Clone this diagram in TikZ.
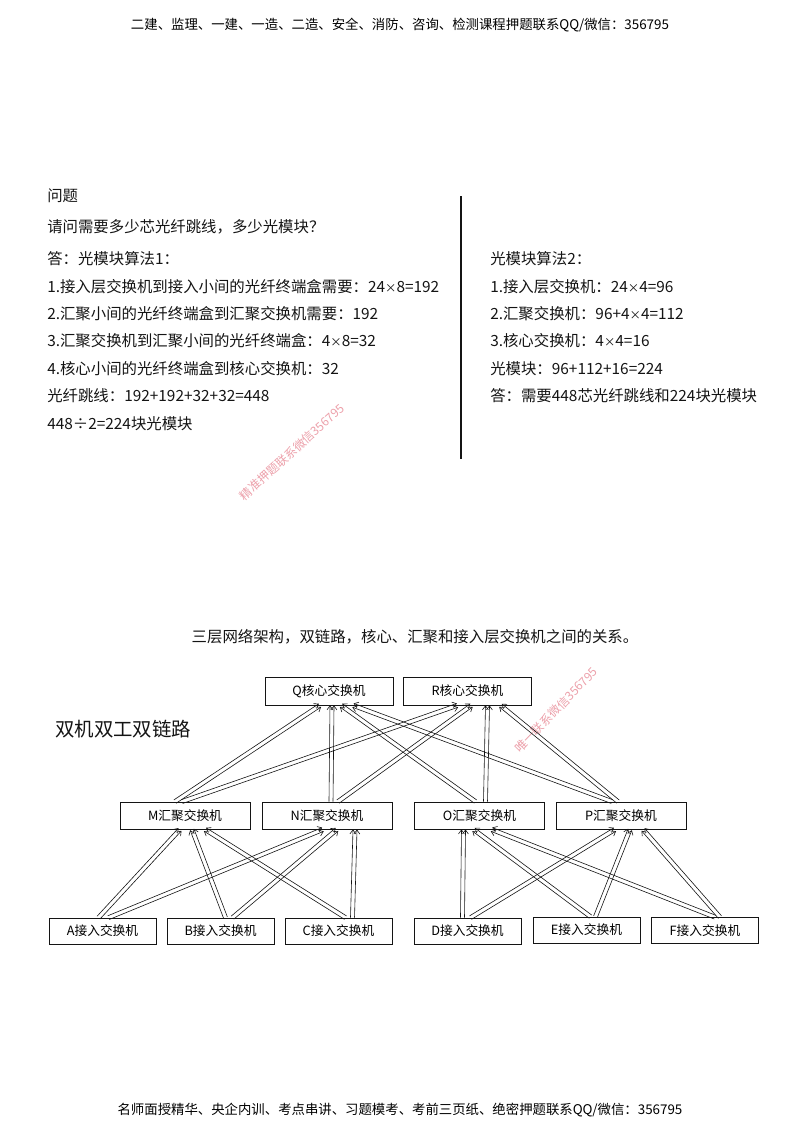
\documentclass[tikz,border=0pt]{standalone}
\usepackage{fontspec}
\setmainfont{Noto Sans CJK SC}
\usepackage{tikz}
\usetikzlibrary{arrows.meta, positioning, calc}
\definecolor{noir}{RGB}{20,20,20}
\definecolor{rose}{RGB}{236,160,170}

\tikzset{
  boite/.style={draw=noir, line width=0.6pt, inner sep=0pt, font=\fontsize{9.5}{11}\selectfont},
  coeur/.style={boite, minimum width=33.6mm, minimum height=7.3mm},
  agreg/.style={boite, minimum width=34.1mm, minimum height=7.1mm},
  acces/.style={boite, minimum width=28.1mm, minimum height=6.8mm},
  lien/.style={noir, line width=0.45pt, -{Straight Barb[length=3pt, width=4.4pt]}},
  ligne/.style={anchor=west, inner sep=0pt, text=noir, font=\fontsize{11.5}{13}\selectfont},
  filig/.style={text=rose, font=\fontsize{9}{10}\selectfont, inner sep=0pt}
}

\newcommand{\fois}{{\fontsize{8.5}{10}\selectfont ×}}

% deux fibres paralleles entre deux commutateurs
\newcommand{\doublelien}[4]{%
  \coordinate (dep) at ($(#1.north)+(#2,0)$);
  \coordinate (arr) at ($(#3.south)+(#4,0)$);
  \draw[lien] ($(dep)!1.5pt!90:(arr)$) -- ($(arr)!1.5pt!-90:(dep)$);
  \draw[lien] ($(dep)!1.5pt!-90:(arr)$) -- ($(arr)!1.5pt!90:(dep)$);
}

\begin{document}
\begin{tikzpicture}[x=0.2625mm, y=-0.2625mm]
  \useasboundingbox (0,0) rectangle (800,1132);

  \node[font=\fontsize{10}{12}\selectfont] (entete) at (400,25)
    {二建、监理、一建、一造、二造、安全、消防、咨询、检测课程押题联系QQ/微信：356795};
  \node[font=\fontsize{10}{12}\selectfont] (pied) at (400,1110)
    {名师面授精华、央企内训、考点串讲、习题模考、考前三页纸、绝密押题联系QQ/微信：356795};

  \node[filig, rotate=42] (fil1) at (292,452) {精准押题联系微信356795};
  \node[filig, rotate=46] (fil2) at (556,710) {唯一联系微信356795};

  % question et calcul 1
  \foreach \yy/\texte [count=\i] in {196/{问题}, 227/{请问需要多少芯光纤跳线，多少光模块？},
      259/{答：光模块算法1：}, 287/{1.接入层交换机到接入小间的光纤终端盒需要：24\fois 8=192},
      314/{2.汇聚小间的光纤终端盒到汇聚交换机需要：192}, 341/{3.汇聚交换机到汇聚小间的光纤终端盒：4\fois 8=32},
      369/{4.核心小间的光纤终端盒到核心交换机：32}, 396/{光纤跳线：192+192+32+32=448},
      424/{448÷2=224块光模块}}
    \node[ligne] (g\i) at (47,\yy) {\texte};

  % calcul 2
  \foreach \yy/\texte [count=\i] in {259/{光模块算法2：}, 287/{1.接入层交换机：24\fois 4=96},
      314/{2.汇聚交换机：96+4\fois 4=112}, 341/{3.核心交换机：4\fois 4=16},
      369/{光模块：96+112+16=224}, 396/{答：需要448芯光纤跳线和224块光模块}}
    \node[ligne] (d\i) at (490,\yy) {\texte};

  \coordinate (sep1) at (461,196);
  \coordinate (sep2) at (461,459);
  \draw[noir, line width=1.2pt] (sep1) -- (sep2);

  \node[ligne, anchor=center] (titre) at (415,637)
    {三层网络架构，双链路，核心、汇聚和接入层交换机之间的关系。};
  \node[ligne, font=\fontsize{14.5}{16}\selectfont] (mode) at (55,729) {双机双工双链路};

  \node[coeur] (Q) at (329,691) {Q核心交换机};
  \node[coeur] (R) at (467.5,691) {R核心交换机};

  \node[agreg] (M) at (185,815.5) {M汇聚交换机};
  \node[agreg] (N) at (327,815.5) {N汇聚交换机};
  \node[agreg] (O) at (479.5,815.5) {O汇聚交换机};
  \node[agreg] (P) at (621,815.5) {P汇聚交换机};

  \node[acces] (A) at (102.5,931) {A接入交换机};
  \node[acces] (B) at (220.5,931) {B接入交换机};
  \node[acces] (C) at (338.5,931) {C接入交换机};
  \node[acces] (D) at (467.5,931) {D接入交换机};
  \node[acces] (E) at (586.5,930) {E接入交换机};
  \node[acces] (F) at (705,930.5) {F接入交换机};

  \doublelien{A}{-4}{M}{-5}
  \doublelien{A}{6}{N}{-4}
  \doublelien{B}{5}{M}{7}
  \doublelien{B}{12}{N}{10}
  \doublelien{C}{7}{M}{20}
  \doublelien{C}{14}{N}{28}
  \doublelien{D}{-5}{O}{-16}
  \doublelien{D}{3}{P}{-6}
  \doublelien{E}{4}{O}{-6}
  \doublelien{E}{9}{P}{9}
  \doublelien{F}{10}{O}{12}
  \doublelien{F}{15}{P}{22}

  \doublelien{M}{-10}{Q}{-9}
  \doublelien{M}{-3}{R}{-10}
  \doublelien{N}{4}{Q}{3}
  \doublelien{N}{11}{R}{4}
  \doublelien{O}{-4}{Q}{12}
  \doublelien{O}{6}{R}{20}
  \doublelien{P}{-9}{Q}{24}
  \doublelien{P}{-3}{R}{33}
\end{tikzpicture}
\end{document}
